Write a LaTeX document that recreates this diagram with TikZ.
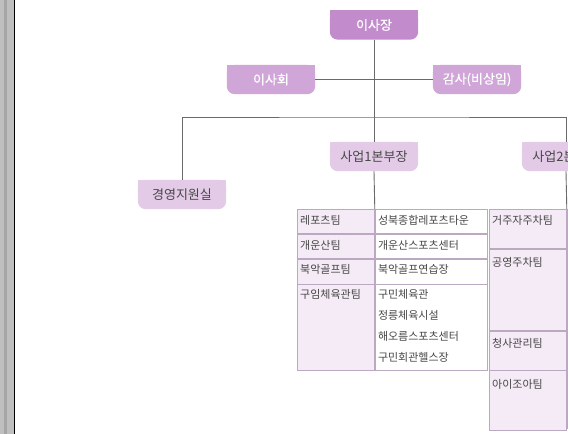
\documentclass[tikz,border=0pt]{standalone}
\usepackage{fontspec}
\setmainfont{Noto Sans CJK KR}
\newfontfamily\boxfont[FakeBold=0.6]{Noto Sans CJK KR}
\usetikzlibrary{backgrounds, positioning}

\definecolor{topc}{HTML}{C18BCC}
\definecolor{midc}{HTML}{D0A5D7}
\definecolor{lowc}{HTML}{E3CAE7}
\definecolor{cellc}{HTML}{F5EBF6}
\definecolor{gridc}{HTML}{BDA8C2}
\definecolor{wirec}{HTML}{6A6A6A}
\definecolor{textc}{HTML}{474747}

\begin{document}
\begin{tikzpicture}[
            x=1pt, y=-1pt,
            every node/.style={inner sep=0pt},
            wire/.style={draw=wirec, line width=0.9pt},
            boxc/.style={minimum width=88pt, minimum height=29pt,
                font=\fontsize{13}{15}\selectfont, text=textc},
            headc/.style={boxc, font=\boxfont\fontsize{13}{15}\selectfont, text=white},
            cell/.style={draw=gridc, line width=0.8pt, anchor=north west,
                font=\fontsize{11}{21}\selectfont, text=textc},
            lbl/.style={anchor=north west, align=left, xshift=3pt, yshift=-6pt,
                font=\fontsize{11}{21}\selectfont, text=textc}
        ]

        \useasboundingbox (0,0) rectangle (568,434);
        \clip (0,0) rectangle (568,434);

        % page and left margin strip
        \begin{scope}[on background layer]
            \fill[white] (0,0) rectangle (568,434);
            \fill[black!25] (0,0) rectangle (14,434);
            \fill[black!35] (4,0) rectangle (7,434);
            \fill[black] (14,0) rectangle (15,434);
        \end{scope}

        % boxes
        \node[headc] (ceo) at (374,25) {이사장};
        \node[headc, on grid, below left=54.5pt and 103pt of ceo] (board) {이사회};
        \node[headc, on grid, below right=54.5pt and 103pt of ceo] (audit) {감사(비상임)};
        \node[boxc, on grid, below=131.5pt of ceo] (div1) {사업1본부장};
        \node[boxc, on grid, right=192pt of div1] (div2) {사업2본부장};
        \node[boxc, on grid, below left=38pt and 192pt of div1] (mgmt) {경영지원실};

        % only the bottom corners are rounded
        \begin{scope}[on background layer]
            \foreach \n/\c in {ceo/topc, board/midc, audit/midc, div1/lowc, div2/lowc, mgmt/lowc} {
                \fill[\c, rounded corners=8pt] (\n.north west) rectangle (\n.south east);
                \fill[\c] (\n.north west) rectangle (\n.east);
            }
        \end{scope}

        % first division
        \node[cell, fill=cellc, minimum width=77pt, minimum height=24pt,
            label={[lbl]north west:레포츠팀}] (t1a) at (297,209) {};
        \node[cell, minimum width=112pt, minimum height=24pt,
            label={[lbl]north west:성북종합레포츠타운}] (t1b) at (t1a.north east) {};
        \node[cell, fill=cellc, minimum width=77pt, minimum height=24pt,
            label={[lbl]north west:개운산팀}] (t2a) at (t1a.south west) {};
        \node[cell, minimum width=112pt, minimum height=24pt,
            label={[lbl]north west:개운산스포츠센터}] (t2b) at (t2a.north east) {};
        \node[cell, fill=cellc, minimum width=77pt, minimum height=25pt,
            label={[lbl]north west:북악골프팀}] (t3a) at (t2a.south west) {};
        \node[cell, minimum width=112pt, minimum height=25pt,
            label={[lbl]north west:북악골프연습장}] (t3b) at (t3a.north east) {};
        \node[cell, fill=cellc, minimum width=77pt, minimum height=86pt,
            label={[lbl, yshift=1pt]north west:구임체육관팀}] (t4a) at (t3a.south west) {};
        \node[cell, minimum width=112pt, minimum height=86pt,
            label={[lbl, yshift=1pt]north west:구민체육관\\정릉체육시설\\해오름스포츠센터\\구민회관헬스장}] (t4b) at (t4a.north east) {};

        % second division
        \node[cell, fill=cellc, minimum width=77pt, minimum height=39pt,
            label={[lbl]north west:거주자주차팀}] (s1a) at (489,209) {};
        \node[cell, fill=cellc, minimum width=77pt, minimum height=81pt,
            label={[lbl, yshift=-2pt]north west:공영주차팀}] (s2a) at (s1a.south west) {};
        \node[cell, fill=cellc, minimum width=77pt, minimum height=39pt,
            label={[lbl, yshift=-2pt]north west:청사관리팀}] (s3a) at (s2a.south west) {};
        \node[cell, fill=cellc, minimum width=77pt, minimum height=60pt,
            label={[lbl, yshift=-3pt]north west:아이조아팀}] (s4a) at (s3a.south west) {};
        \node[cell, minimum width=112pt, minimum height=219pt] (s1b) at (s1a.north east) {};

        % lines
        \coordinate (bus) at (374,117);
        \draw[wire] (board) -- (audit);
        \draw[wire] (ceo) -- (div1);
        \draw[wire] (mgmt.north) |- (bus) -| (div2.north);
        \draw[wire] (div1.south) -- (t1b.north west);
        \draw[wire] (div2.south) -- (s1b.north west);

    \end{tikzpicture}
\end{document}
